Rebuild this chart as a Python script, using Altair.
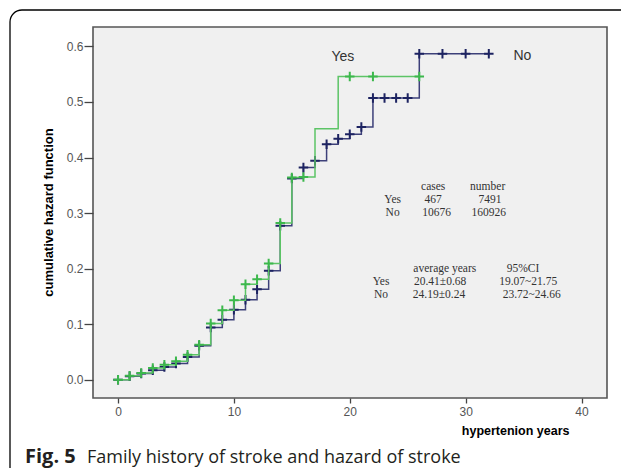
import altair as alt
import pandas as pd

# ---- data ----
yes_years = [0, 1, 2, 3, 4, 5, 6, 7, 8, 9, 10, 11, 12, 13, 14, 15, 16, 17, 19, 20, 22, 26]
yes_hazard = [0.000, 0.007, 0.012, 0.021, 0.027, 0.033, 0.045, 0.063, 0.101, 0.125, 0.143,
              0.172, 0.181, 0.209, 0.282, 0.364, 0.365, 0.452, 0.546, 0.546, 0.546, 0.546]
yes_censored = [1, 1, 1, 1, 1, 1, 1, 1, 1, 1, 1, 1, 1, 1, 1, 1, 1, 0, 0, 1, 1, 1]

no_years = [0, 1, 2, 3, 4, 5, 6, 7, 8, 9, 10, 11, 12, 13, 14, 15, 16, 17, 18, 19, 20,
            21, 22, 23, 24, 25, 26, 28, 30, 32]
no_hazard = [0.000, 0.006, 0.011, 0.017, 0.023, 0.029, 0.041, 0.061, 0.094, 0.108, 0.126,
             0.144, 0.163, 0.196, 0.277, 0.362, 0.382, 0.394, 0.424, 0.434, 0.442,
             0.455, 0.507, 0.507, 0.507, 0.507, 0.587, 0.587, 0.587, 0.587]
no_censored = [1] * 30

curve_labels = ["Yes", "No"]
curve_label_x = [19.4, 34.9]
curve_label_y = [0.581, 0.583]

table_text = ["cases", "number", "Yes", "467", "7491", "No", "10676", "160926",
              "average years", "95%CI", "Yes", "20.41\u00b10.68", "19.07~21.75",
              "No", "24.19\u00b10.24", "23.72~24.66"]
table_x = [27.2, 31.9, 23.7, 27.2, 32.1, 23.7, 27.5, 32.0,
           28.2, 34.95, 22.7, 27.8, 35.4, 22.7, 27.7, 35.7]
table_y = [0.347, 0.347, 0.324, 0.324, 0.324, 0.301, 0.301, 0.301,
           0.200, 0.200, 0.176, 0.176, 0.176, 0.153, 0.153, 0.153]

x_ticks = [0, 10, 20, 30, 40]
y_ticks = [0.0, 0.1, 0.2, 0.3, 0.4, 0.5, 0.6]

caption_bold = "Fig. 5"
caption_rest = "Family history of stroke and hazard of stroke"

# ---- tables ----
curves = pd.concat([
    pd.DataFrame({"years": no_years, "hazard": no_hazard, "censored": no_censored, "group": "No"}),
    pd.DataFrame({"years": yes_years, "hazard": yes_hazard, "censored": yes_censored, "group": "Yes"}),
], ignore_index=True)
labels_df = pd.DataFrame({"years": curve_label_x, "hazard": curve_label_y, "text": curve_labels})
table_df = pd.DataFrame({"years": table_x, "hazard": table_y, "text": table_text})

NAVY_LINE = "#3d4079"
NAVY_MARK = "#1d2361"
GREEN_LINE = "#5cc466"
GREEN_MARK = "#3cb84c"

x_scale = alt.Scale(domain=[-2.16, 42.2], nice=False, zero=False)
y_scale = alt.Scale(domain=[-0.033, 0.635], nice=False, zero=False)

x_axis = alt.Axis(values=x_ticks, grid=False, domain=False, tickSize=5, tickColor="#444",
                  tickWidth=1.3, labelPadding=3, labelFontSize=12, labelColor="#555",
                  labelFont="Liberation Sans", title="hypertenion years",
                  titleFont="Liberation Sans", titleFontSize=12.5, titleFontWeight="bold",
                  titleColor="black", titleAlign="right", titleX=476, titleY=36.5,
                  titleBaseline="alphabetic")
y_axis = alt.Axis(values=y_ticks, format=".1f", grid=False, domain=False, tickSize=9,
                  tickColor="#444", tickWidth=1.3, labelPadding=1, labelFontSize=12,
                  labelColor="#555", labelFont="Liberation Sans",
                  title="cumulative hazard function", titleFont="Liberation Sans",
                  titleFontSize=13, titleFontWeight="bold", titleColor="black",
                  titleAngle=-90, titleX=-41, titleY=185, titleAlign="center",
                  titleBaseline="alphabetic")

X = alt.X("years:Q", scale=x_scale, axis=x_axis)
Y = alt.Y("hazard:Q", scale=y_scale, axis=y_axis)

plus = "M -1 0 L 1 0 M 0 -1 L 0 1"


def series(group, line_color, mark_color):
    base = alt.Chart(curves).transform_filter(alt.datum.group == group)
    line = base.mark_line(interpolate="step-after", strokeWidth=1.5, color=line_color).encode(x=X, y=Y)
    marks = base.transform_filter(alt.datum.censored == 1).mark_point(
        shape=plus, filled=False, strokeWidth=2, size=90, color=mark_color, opacity=1
    ).encode(x=X, y=Y)
    return line + marks


navy = series("No", NAVY_LINE, NAVY_MARK)
green = series("Yes", GREEN_LINE, GREEN_MARK)

curve_text = alt.Chart(labels_df).mark_text(
    font="Liberation Sans", fontSize=14, color="#333", align="center", baseline="middle"
).encode(x=X, y=Y, text="text:N")

table = alt.Chart(table_df).mark_text(
    font="Liberation Serif", fontSize=11.5, color="#333", align="center", baseline="middle"
).encode(x=X, y=Y, text="text:N")

one = alt.Data(values=[{"a": 1}])
border = alt.Chart(one).mark_rect(
    fillOpacity=0, stroke="black", strokeWidth=1.3, cornerRadius=12
).encode(x=alt.value(-83), x2=alt.value(560), y=alt.value(-17), y2=alt.value(480))

cap1 = alt.Chart(one).mark_text(
    text=caption_bold, font="Open Sans", fontSize=20, fontWeight="bold", color="#231f20",
    align="left", baseline="alphabetic"
).encode(x=alt.value(-68), y=alt.value(436))
cap2 = alt.Chart(one).mark_text(
    text=caption_rest, font="Open Sans", fontSize=18, color="#231f20",
    align="left", baseline="alphabetic"
).encode(x=alt.value(-6), y=alt.value(436))

chart = alt.layer(navy, green, curve_text, table, border, cap1, cap2).properties(
    width=514, height=371,
    padding={"left": 85, "top": 19, "right": 14, "bottom": 70},
    autosize=alt.AutoSizeParams(type="none"),
    background="white",
).configure_view(fill="#f0f0f0", stroke="#555", strokeWidth=1.6)

chart.save("out.html", embed_options={"renderer": "svg", "actions": False})
